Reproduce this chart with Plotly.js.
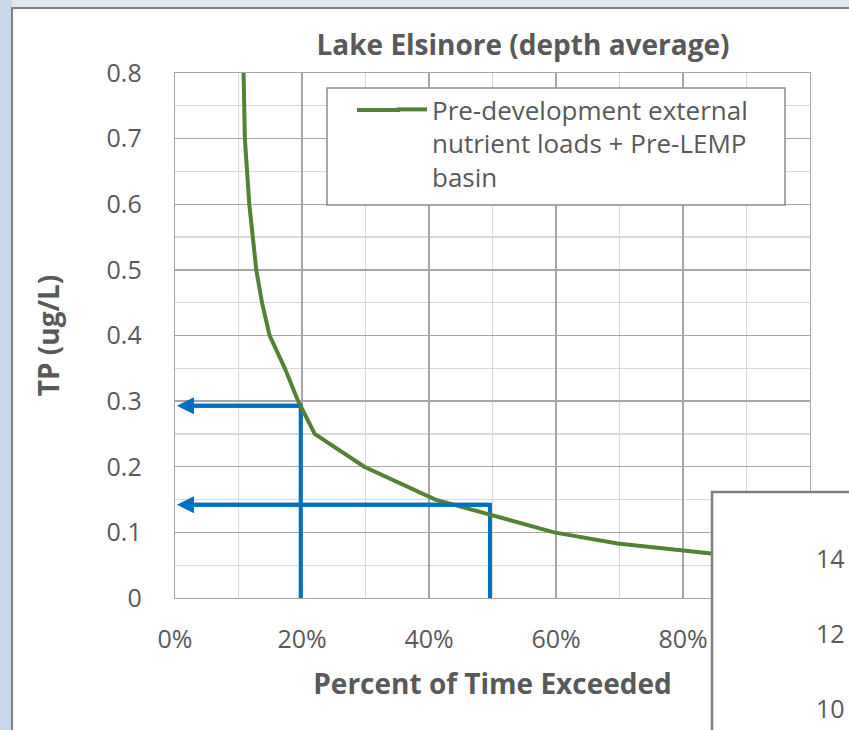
<!DOCTYPE html>
<html>
<head>
<meta charset="utf-8">
<script src="https://cdn.plot.ly/plotly-3.0.1.min.js"></script>
<style>
html,body{margin:0;padding:0;background:#dde6f1;}
#chart{width:849px;height:730px;}
</style>
</head>
<body>
<div id="chart"></div>
<script>
// Exceedance curve (fraction of time exceeded vs TP)
const percentExceeded = [0.108, 0.110, 0.117, 0.128, 0.137, 0.149, 0.173, 0.194, 0.220, 0.298, 0.410, 0.597, 0.697, 0.798, 0.842, 0.900];
const tpValues        = [0.80,  0.70,  0.60,  0.50,  0.45,  0.40,  0.35,  0.30,  0.25,  0.20,  0.15,  0.10,  0.083, 0.072, 0.068, 0.062];
const seriesName = "Pre-development external<br>nutrient loads + Pre-LEMP<br>basin";

// Blue reading guides
const guide1X = [0.198, 0.198, 0.02];
const guide1Y = [0, 0.293, 0.293];
const guide2X = [0.496, 0.496, 0.02];
const guide2Y = [0, 0.142, 0.142];
const guideTipX = 0.003;

// Tick labels (the 100% label is hidden behind the neighbouring chart)
const xTickVals = [0, 0.2, 0.4, 0.6, 0.8];
const xTickText = ["0%", "20%", "40%", "60%", "80%"];
const yTickVals = [0, 0.1, 0.2, 0.3, 0.4, 0.5, 0.6, 0.7, 0.8];
const yTickText = ["0", "0.1", "0.2", "0.3", "0.4", "0.5", "0.6", "0.7", "0.8"];

// Labels of the overlapping neighbour chart
const otherLabels = ["14", "12", "10"];

const FONT = "Open Sans, Noto Sans, sans-serif";
const TXT = "#595959";
const W = 849, H = 730;
const L = 175, R = 810, T = 73, B = 598;
const px = v => (v - L) / (R - L);
const py = v => (B - v) / (B - T);

const traces = [
  {x: guide1X, y: guide1Y, mode: "lines", line: {color: "#0070c0", width: 4}, showlegend: false, hoverinfo: "skip"},
  {x: guide2X, y: guide2Y, mode: "lines", line: {color: "#0070c0", width: 4}, showlegend: false, hoverinfo: "skip"},
  {x: percentExceeded, y: tpValues, mode: "lines", name: seriesName,
   line: {color: "#548235", width: 4}}
];

const annotations = [
  {x: guideTipX, y: guide1Y[1], ax: guide1X[1], ay: guide1Y[1], axref: "x", ayref: "y", xref: "x", yref: "y",
   text: "", showarrow: true, arrowhead: 2, arrowsize: 0.85, arrowwidth: 4, arrowcolor: "#0070c0"},
  {x: guideTipX, y: guide2Y[1], ax: guide2X[1], ay: guide2Y[1], axref: "x", ayref: "y", xref: "x", yref: "y",
   text: "", showarrow: true, arrowhead: 2, arrowsize: 0.85, arrowwidth: 4, arrowcolor: "#0070c0"}
];
const labelYs = [558, 633, 708];
otherLabels.forEach((t, i) => annotations.push({
  xref: "paper", yref: "paper", x: px(847), y: py(labelYs[i]), xanchor: "right", yanchor: "middle",
  text: t, showarrow: false, font: {family: FONT, size: 25, color: TXT}
}));

const shapes = [
  // light blue left strip
  {type: "rect", xref: "paper", yref: "paper", x0: px(-5), x1: px(12), y0: py(760), y1: py(-5),
   fillcolor: "#c8d7ea", line: {width: 0}, layer: "below"},
  // white chart panel
  {type: "rect", xref: "paper", yref: "paper", x0: px(12), x1: px(870), y0: py(760), y1: py(8),
   fillcolor: "#ffffff", line: {color: "#7f7f7f", width: 2}, layer: "below"},
  // legend box
  {type: "rect", xref: "paper", yref: "paper", x0: px(327), x1: px(785), y0: py(205), y1: py(88),
   fillcolor: "#ffffff", line: {color: "#8c8c8c", width: 1.5}, layer: "above"},
  // legend sample extension
  {type: "line", xref: "paper", yref: "paper", x0: px(357), x1: px(400), y0: py(110), y1: py(110),
   line: {color: "#548235", width: 4}, layer: "above"},
  // overlapping neighbour chart box
  {type: "rect", xref: "paper", yref: "paper", x0: px(712), x1: px(870), y0: py(760), y1: py(492),
   fillcolor: "#ffffff", line: {color: "#7f7f7f", width: 2.5}, layer: "above"}
];

const layout = {
  width: W, height: H,
  margin: {l: L, r: W - R, t: T, b: H - B},
  paper_bgcolor: "#dde6f1",
  plot_bgcolor: "rgba(0,0,0,0)",
  font: {family: FONT, color: TXT, size: 25},
  title: {text: "<b>Lake Elsinore (depth average)</b>", x: px(523), xref: "paper", xanchor: "center",
          y: 1 - 45 / H, yref: "container", yanchor: "middle", font: {family: FONT, size: 28, color: TXT}},
  showlegend: true,
  legend: {x: px(392), y: py(86), xanchor: "left", yanchor: "top", xref: "paper", yref: "paper",
           bgcolor: "rgba(0,0,0,0)", borderwidth: 0, valign: "top", itemwidth: 30,
           font: {family: FONT, size: 26, color: TXT}, tracegroupgap: 0},
  xaxis: {range: [0, 1], tickvals: xTickVals, ticktext: xTickText, ticks: "", ticklabelstandoff: 19,
          showgrid: true, gridcolor: "#a6a6a6", gridwidth: 1.3, zeroline: false,
          showline: true, mirror: true, linecolor: "#a6a6a6", linewidth: 1.3,
          minor: {dtick: 0.1, showgrid: true, gridcolor: "#d9d9d9", gridwidth: 1.3},
          tickfont: {family: FONT, size: 25, color: TXT},
          title: {text: "<b>Percent of Time Exceeded</b>", standoff: 20, font: {family: FONT, size: 28, color: TXT}}},
  yaxis: {range: [0, 0.8], tickvals: yTickVals, ticktext: yTickText, ticks: "", ticklabelstandoff: 27,
          showgrid: true, gridcolor: "#a6a6a6", gridwidth: 1.3, zeroline: false,
          showline: true, mirror: true, linecolor: "#a6a6a6", linewidth: 1.3,
          minor: {dtick: 0.05, showgrid: true, gridcolor: "#d9d9d9", gridwidth: 1.3},
          tickfont: {family: FONT, size: 25, color: TXT},
          title: {text: "<b>TP (ug/L)</b>", standoff: 38, font: {family: FONT, size: 28, color: TXT}}},
  shapes: shapes,
  annotations: annotations
};

Plotly.newPlot("chart", traces, layout, {displayModeBar: false, staticPlot: true});
</script>
</body>
</html>
